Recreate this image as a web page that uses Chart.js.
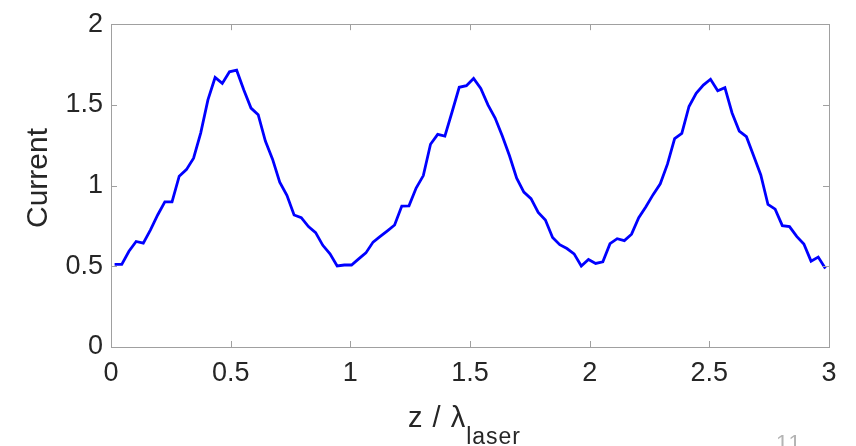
<!DOCTYPE html>
<html>
<head>
<meta charset="utf-8">
<script src="https://cdn.jsdelivr.net/npm/chart.js@4/dist/chart.umd.min.js"></script>
<style>
  html, body { margin: 0; padding: 0; background: #fff; }
  #wrap { width: 856px; height: 446px; }
</style>
</head>
<body>
<div id="wrap"><canvas id="currentChart" width="856" height="446"></canvas></div>
<script>
// z / lambda positions (bin centres) and the measured current
const zPositions = [
  0.015, 0.045, 0.075, 0.105, 0.135, 0.165, 0.195, 0.225, 0.255, 0.285,
  0.315, 0.345, 0.375, 0.405, 0.435, 0.465, 0.495, 0.525, 0.555, 0.585,
  0.615, 0.645, 0.675, 0.705, 0.735, 0.765, 0.795, 0.825, 0.855, 0.885,
  0.915, 0.945, 0.975, 1.005, 1.035, 1.065, 1.095, 1.125, 1.155, 1.185,
  1.215, 1.245, 1.275, 1.305, 1.335, 1.365, 1.395, 1.425, 1.455, 1.485,
  1.515, 1.545, 1.575, 1.605, 1.635, 1.665, 1.695, 1.725, 1.755, 1.785,
  1.815, 1.845, 1.875, 1.905, 1.935, 1.965, 1.995, 2.025, 2.055, 2.085,
  2.115, 2.145, 2.175, 2.205, 2.235, 2.265, 2.295, 2.325, 2.355, 2.385,
  2.415, 2.445, 2.475, 2.505, 2.535, 2.565, 2.595, 2.625, 2.655, 2.685,
  2.715, 2.745, 2.775, 2.805, 2.835, 2.865, 2.895, 2.925, 2.955, 2.985
];
const currentValues = [
  0.512, 0.512, 0.593, 0.654, 0.644, 0.726, 0.818, 0.899, 0.899, 1.058,
  1.099, 1.170, 1.327, 1.531, 1.670, 1.633, 1.705, 1.715, 1.592, 1.480,
  1.439, 1.276, 1.164, 1.021, 0.940, 0.818, 0.801, 0.746, 0.709, 0.630,
  0.577, 0.502, 0.508, 0.508, 0.546, 0.583, 0.650, 0.685, 0.720, 0.756,
  0.873, 0.875, 0.985, 1.062, 1.256, 1.317, 1.307, 1.456, 1.609, 1.619,
  1.664, 1.602, 1.500, 1.419, 1.307, 1.185, 1.046, 0.960, 0.919, 0.834,
  0.787, 0.679, 0.634, 0.610, 0.577, 0.502, 0.542, 0.518, 0.528, 0.640,
  0.671, 0.659, 0.699, 0.801, 0.869, 0.944, 1.011, 1.133, 1.291, 1.323,
  1.490, 1.572, 1.623, 1.659, 1.588, 1.607, 1.450, 1.338, 1.303, 1.185,
  1.066, 0.883, 0.854, 0.752, 0.746, 0.685, 0.638, 0.532, 0.557, 0.487
];
const xTicks = [0, 0.5, 1, 1.5, 2, 2.5, 3];
const yTicks = [0, 0.5, 1, 1.5, 2];

const FONT = '"Liberation Sans", Arial, Helvetica, sans-serif';
const textColor = '#262626';
const boxColor = '#a0a0a0';

// MATLAB-like box with inward ticks, axis titles and the slide number
const matlabAxes = {
    id: 'matlabAxes',
    afterDraw(chart) {
        const ctx = chart.ctx;
        const a = chart.chartArea;
        const xs = chart.scales.x, ys = chart.scales.y;
        const tl = 6;
        ctx.save();
        ctx.strokeStyle = boxColor;
        ctx.lineWidth = 1;
        ctx.strokeRect(Math.round(a.left) + 0.5, Math.round(a.top) + 0.5,
                       Math.round(a.right - a.left), Math.round(a.bottom - a.top));
        ctx.beginPath();
        xTicks.forEach(v => {
            const px = Math.round(xs.getPixelForValue(v)) + 0.5;
            ctx.moveTo(px, a.bottom); ctx.lineTo(px, a.bottom - tl);
            ctx.moveTo(px, a.top); ctx.lineTo(px, a.top + tl);
        });
        yTicks.forEach(v => {
            const py = Math.round(ys.getPixelForValue(v)) + 0.5;
            ctx.moveTo(a.left, py); ctx.lineTo(a.left + tl, py);
            ctx.moveTo(a.right, py); ctx.lineTo(a.right - tl, py);
        });
        ctx.stroke();

        // y title
        ctx.fillStyle = textColor;
        ctx.font = '30px ' + FONT;
        ctx.textAlign = 'center';
        ctx.textBaseline = 'middle';
        ctx.translate(39, 178);
        ctx.rotate(-Math.PI / 2);
        ctx.fillText('Current', 0, 0);
        ctx.setTransform(1, 0, 0, 1, 0, 0);

        // x title with subscript
        ctx.textAlign = 'left';
        ctx.textBaseline = 'alphabetic';
        const main = 'z / λ', sub = 'laser';
        ctx.letterSpacing = '1px';
        ctx.font = '29px ' + FONT;
        const wMain = ctx.measureText(main).width;
        ctx.fillText(main, 408, 427);
        ctx.font = '23px ' + FONT;
        ctx.fillText(sub, 408 + wMain, 444);
        ctx.letterSpacing = '0px';

        // slide number, cut off at the bottom edge
        ctx.fillStyle = '#b4b4b4';
        ctx.font = '22px ' + FONT;
        ctx.letterSpacing = '2px';
        ctx.fillText('11', 776, 450);
        ctx.restore();
    }
};

const ctx = document.getElementById('currentChart').getContext('2d');
const currentChart = new Chart(ctx, {
    type: 'line',
    data: {
        datasets: [{
            label: 'Current',
            data: zPositions.map((z, i) => ({ x: z, y: currentValues[i] })),
            borderColor: '#0000ff',
            borderWidth: 2.8,
            pointRadius: 0,
            tension: 0,
            fill: false
        }]
    },
    options: {
        responsive: false,
        animation: false,
        layout: { padding: { top: 20, right: 27, left: 0, bottom: 0 } },
        plugins: {
            legend: { display: false },
            tooltip: { enabled: false }
        },
        scales: {
            x: {
                type: 'linear',
                min: 0,
                max: 3,
                afterBuildTicks: s => { s.ticks = xTicks.map(v => ({ value: v })); },
                afterFit: s => { s.height = 99; },
                grid: { display: false, drawTicks: false },
                border: { display: false },
                ticks: {
                    color: textColor,
                    font: { family: FONT, size: 27 },
                    padding: 10,
                    maxRotation: 0,
                    autoSkip: false,
                    callback: v => String(v)
                }
            },
            y: {
                type: 'linear',
                min: 0,
                max: 2,
                afterBuildTicks: s => { s.ticks = yTicks.map(v => ({ value: v })); },
                afterFit: s => { s.width = 111; },
                grid: { display: false, drawTicks: false },
                border: { display: false },
                ticks: {
                    color: textColor,
                    font: { family: FONT, size: 27 },
                    padding: 8,
                    autoSkip: false,
                    callback: v => String(v)
                }
            }
        }
    },
    plugins: [matlabAxes]
});
</script>
</body>
</html>
